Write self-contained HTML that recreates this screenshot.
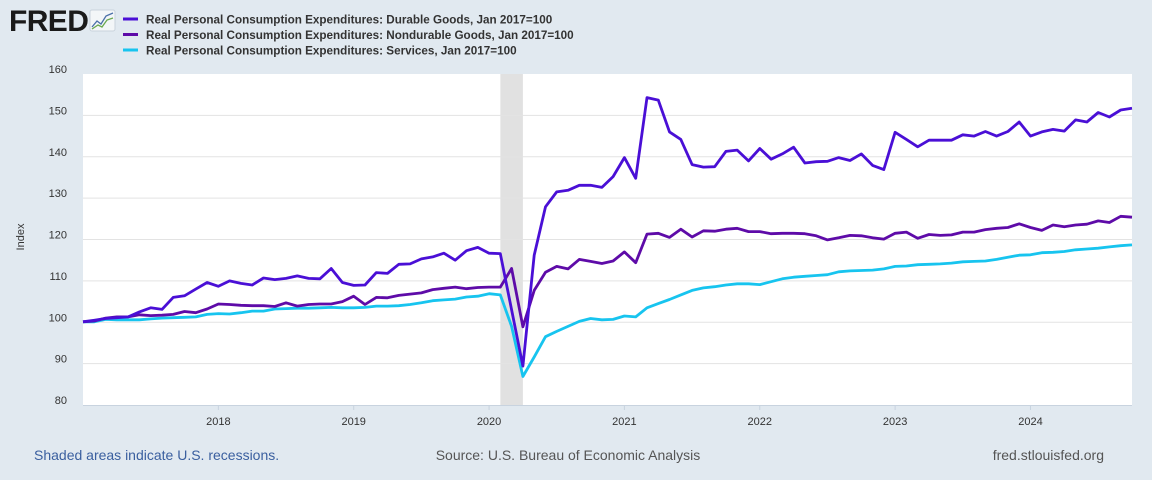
<!DOCTYPE html>
<html><head><meta charset="utf-8"><style>
body{margin:0;background:#e1e9f0;font-family:"Liberation Sans",sans-serif;}
#wrap{position:relative;width:1152px;height:480px;overflow:hidden;background:#e1e9f0;}
</style></head><body>
<div id="wrap">
<svg id="chart" width="1152" height="480"></svg>
</div>
<script>
const months = 94; // Jan 2017 .. Oct 2024
const yTicks = [80, 90, 100, 110, 120, 130, 140, 150, 160];
const xTickLabels = ['2018','2019','2020','2021','2022','2023','2024'];
const xTickIndex = [12, 24, 36, 48, 60, 72, 84];
const recessionStart = 37, recessionEnd = 39;
const durable = [100.1,100.5,100.9,101.1,101.3,102.5,103.5,103.1,106,106.4,108,109.6,108.7,110,109.4,109,110.7,110.3,110.6,111.2,110.6,110.5,113,109.6,108.9,109,112,111.8,114,114.1,115.3,115.8,116.7,115,117.3,118.1,116.7,116.6,103,89.4,116.2,127.9,131.5,131.9,133.1,133.1,132.6,135.2,139.8,134.8,154.3,153.7,146,144.2,138.1,137.5,137.6,141.3,141.6,139,142,139.4,140.7,142.3,138.5,138.8,138.9,139.8,139.1,140.7,137.9,136.9,145.9,144.2,142.4,144,144,144,145.3,145,146.1,145,146.1,148.4,145,146,146.6,146.2,148.9,148.4,150.7,149.6,151.3,151.7];
const nondurable = [100.1,100.3,101,101.3,101.3,101.8,101.6,101.7,101.9,102.6,102.3,103.2,104.4,104.3,104.1,104,104,103.8,104.7,103.9,104.3,104.4,104.4,105,106.3,104.3,106,105.9,106.5,106.8,107.1,107.9,108.2,108.5,108.1,108.4,108.5,108.5,113,98.9,107.7,112.1,113.5,112.9,115.2,114.7,114.2,114.8,117,114.4,121.3,121.5,120.5,122.5,120.6,122.1,122,122.5,122.7,121.9,121.9,121.4,121.5,121.5,121.4,120.9,119.9,120.4,121,120.9,120.4,120.1,121.5,121.8,120.3,121.2,121,121.1,121.8,121.8,122.4,122.7,122.9,123.8,122.9,122.2,123.5,123.1,123.5,123.7,124.5,124.1,125.6,125.4];
const services = [100.1,100.1,100.7,100.6,100.6,100.6,100.8,101,101.1,101.2,101.3,101.9,102.1,102,102.3,102.7,102.7,103.2,103.3,103.4,103.4,103.5,103.6,103.5,103.5,103.6,103.9,103.9,104,104.3,104.7,105.2,105.4,105.6,106.1,106.3,106.9,106.6,99,86.9,91.6,96.5,97.8,99,100.2,100.9,100.6,100.7,101.5,101.3,103.5,104.5,105.5,106.6,107.7,108.3,108.6,109,109.3,109.3,109.1,109.8,110.5,110.9,111.1,111.3,111.5,112.2,112.4,112.5,112.6,112.9,113.5,113.6,113.9,114,114.1,114.3,114.6,114.7,114.8,115.2,115.7,116.2,116.3,116.8,116.9,117.1,117.5,117.7,117.9,118.2,118.5,118.7];

const NS='http://www.w3.org/2000/svg';
const svg=document.getElementById('chart');
const L=83,R=1132,T=74,B=405,yMin=80,yMax=160;
const xS=i=>L+i*(R-L)/(months-1);
const yS=v=>B-(v-yMin)*(B-T)/(yMax-yMin);
function mk(tag,attrs,parent){const e=document.createElementNS(NS,tag);for(const k in attrs)e.setAttribute(k,attrs[k]);(parent||svg).appendChild(e);return e;}

let t=mk('text',{x:9,y:31,'font-size':30,'font-weight':'bold',fill:'#1a1a1a','font-family':'Liberation Sans, sans-serif','letter-spacing':'-0.6'});
t.textContent='FRED';


let ic=mk('g',{});


mk('rect',{x:90,y:10,width:25,height:21,rx:2,fill:'#f3f6f8',stroke:'#c9d3dc'},ic);
mk('polyline',{points:'92,27 97,21 101,24 106,16 113,13',fill:'none',stroke:'#4a6fa8','stroke-width':1.3},ic);
mk('polyline',{points:'92,29 98,25 102,27 107,20 113,18',fill:'none',stroke:'#6aa84f','stroke-width':1.3},ic);

const legNames=['Real Personal Consumption Expenditures: Durable Goods, Jan 2017=100','Real Personal Consumption Expenditures: Nondurable Goods, Jan 2017=100','Real Personal Consumption Expenditures: Services, Jan 2017=100'];
const colors=['#4a0fd6','#5e0ba8','#17c4ef'];
const legKeys=['durable','nondurable','services'];
legNames.forEach((n,k)=>{
 const g=mk('g',{});
 
 
 mk('line',{x1:123,x2:138,y1:19+k*15.5,y2:19+k*15.5,stroke:colors[k],'stroke-width':3},g);
 const tt=mk('text',{x:146,y:23.5+k*15.5,'font-size':11.7,'font-weight':'bold',fill:'#333'},g);
 tt.textContent=n;
});

let pb=mk('rect',{x:L,y:T,width:R-L,height:B-T,fill:'#fff'});


let rec=mk('rect',{x:xS(recessionStart),y:T,width:xS(recessionEnd)-xS(recessionStart),height:B-T,fill:'#e1e1e1'});



yTicks.forEach(v=>{
 if(v>yMin&&v<yMax){
  const gl=mk('line',{x1:L,x2:R,y1:yS(v),y2:yS(v),stroke:'#e3e3e3','stroke-width':1});
  
  
 }
 const lb=mk('text',{x:67,y:yS(v)-1,'font-size':11,fill:'#333','text-anchor':'end'});
 lb.textContent=v;
 
 
});
mk('line',{x1:L,x2:R,y1:B+0.5,y2:B+0.5,stroke:'#c8d3df','stroke-width':1});
xTickLabels.forEach((s,k)=>{
 const x=xS(xTickIndex[k]);
 const tk=mk('line',{x1:x,x2:x,y1:B,y2:B+5,stroke:'#c8d3df','stroke-width':1});
 
 
 const lb=mk('text',{x:x,y:425,'font-size':11,fill:'#333','text-anchor':'middle'});
 lb.textContent=s;
 
 
});
let yt=mk('text',{x:0,y:0,'font-size':11,fill:'#333','text-anchor':'middle',transform:'translate(24,237) rotate(-90)'});
yt.textContent='Index';



[services,nondurable,durable].forEach((arr,j)=>{
 const k=[2,1,0][j];
 const p=mk('polyline',{points:arr.map((v,i)=>xS(i).toFixed(1)+','+yS(v).toFixed(1)).join(' '),fill:'none',stroke:colors[k],'stroke-width':2.8,'stroke-linejoin':'round'});
 
 
});

let f1=mk('text',{x:34,y:460,'font-size':14,fill:'#3a5f9f'});
f1.textContent='Shaded areas indicate U.S. recessions.';


let f2=mk('text',{x:568,y:460,'font-size':14,fill:'#555','text-anchor':'middle'});
f2.textContent='Source: U.S. Bureau of Economic Analysis';


let f3=mk('text',{x:1104,y:460,'font-size':14,fill:'#555','text-anchor':'end'});
f3.textContent='fred.stlouisfed.org';


</script>
</body></html>
